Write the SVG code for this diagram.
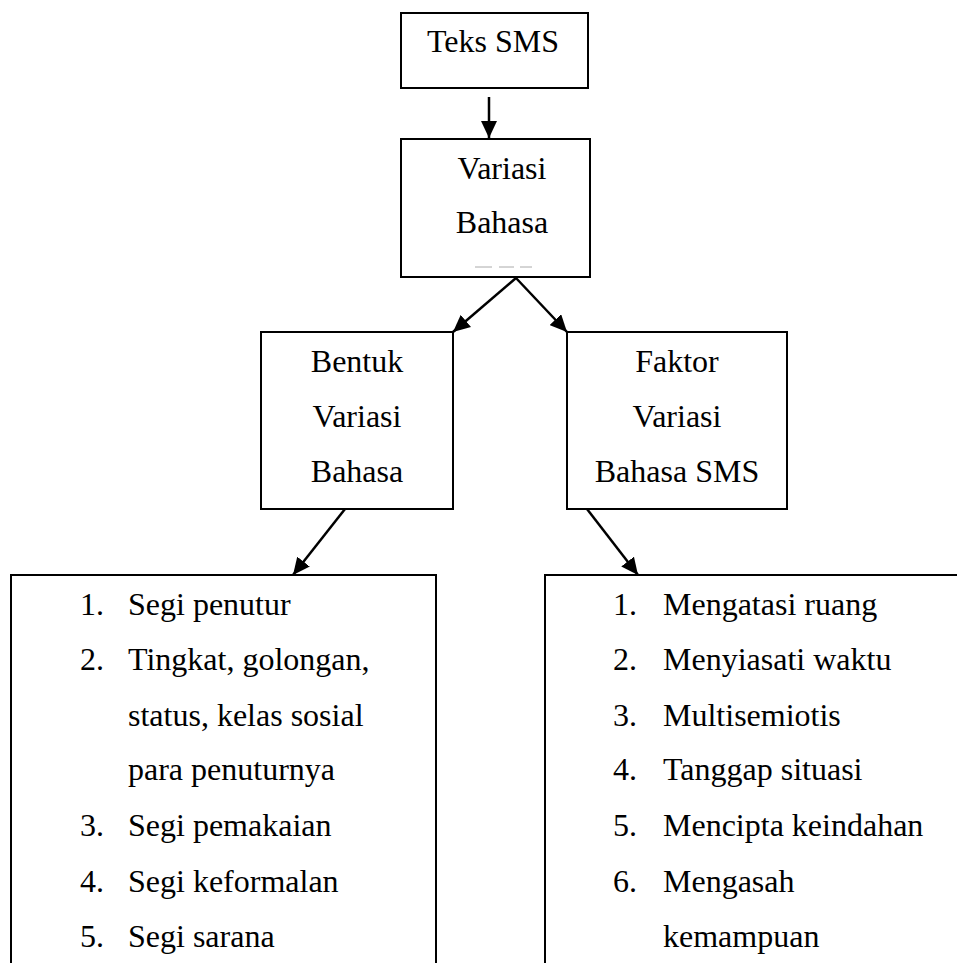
<svg xmlns="http://www.w3.org/2000/svg" width="957" height="963" viewBox="0 0 957 963">
<style>
.box{fill:#fff;stroke:#000;stroke-width:2}
.t{font-family:"Liberation Serif","Times New Roman",serif;font-size:32px;fill:#000}
.c{text-anchor:middle}
.conn{stroke:#000;stroke-width:2.5;fill:none}
</style>
<defs>
<marker id="ah" viewBox="0 0 17 16" refX="17" refY="8" markerWidth="17" markerHeight="16" markerUnits="userSpaceOnUse" orient="auto">
<path d="M0,0 L17,8 L0,16 z" fill="#000"/>
</marker>
</defs>
<rect width="957" height="963" fill="#fff"/>
<g id="teks-sms">
<rect class="box" x="401" y="13" width="187" height="75"/>
<text class="t c" x="493" y="52">Teks SMS</text>
</g>
<g id="variasi-bahasa">
<rect class="box" x="401" y="139" width="189" height="138"/>
<text class="t c" x="502" y="179">Variasi</text>
<text class="t c" x="502" y="233">Bahasa</text>
<g stroke="#aaa" stroke-width="1">
<line x1="475" y1="267" x2="492" y2="267"/>
<line x1="499" y1="267" x2="514" y2="267"/>
<line x1="520" y1="267" x2="532" y2="267"/>
</g>
</g>
<g id="bentuk">
<rect class="box" x="261" y="332" width="192" height="177"/>
<text class="t c" x="357" y="372">Bentuk</text>
<text class="t c" x="357" y="427">Variasi</text>
<text class="t c" x="357" y="482">Bahasa</text>
</g>
<g id="faktor">
<rect class="box" x="567" y="332" width="220" height="177"/>
<text class="t c" x="677" y="372">Faktor</text>
<text class="t c" x="677" y="427">Variasi</text>
<text class="t c" x="677" y="482">Bahasa SMS</text>
</g>
<g id="bentuk-list">
<rect class="box" x="11" y="575" width="425" height="400"/>
<text class="t" x="80" y="615">1.</text><text class="t" x="128" y="615">Segi penutur</text>
<text class="t" x="80" y="670">2.</text><text class="t" x="128" y="670">Tingkat, golongan,</text>
<text class="t" x="128" y="726">status, kelas sosial</text>
<text class="t" x="128" y="780">para penuturnya</text>
<text class="t" x="80" y="836">3.</text><text class="t" x="128" y="836">Segi pemakaian</text>
<text class="t" x="80" y="892">4.</text><text class="t" x="128" y="892">Segi keformalan</text>
<text class="t" x="80" y="947">5.</text><text class="t" x="128" y="947">Segi sarana</text>
</g>
<g id="faktor-list">
<rect class="box" x="545" y="575" width="430" height="400"/>
<text class="t" x="613" y="615">1.</text><text class="t" x="663" y="615">Mengatasi ruang</text>
<text class="t" x="613" y="670">2.</text><text class="t" x="663" y="670">Menyiasati waktu</text>
<text class="t" x="613" y="726">3.</text><text class="t" x="663" y="726">Multisemiotis</text>
<text class="t" x="613" y="780">4.</text><text class="t" x="663" y="780">Tanggap situasi</text>
<text class="t" x="613" y="836">5.</text><text class="t" x="663" y="836">Mencipta keindahan</text>
<text class="t" x="613" y="892">6.</text><text class="t" x="663" y="892">Mengasah</text>
<text class="t" x="663" y="947">kemampuan</text>
</g>
<g id="connectors">
<line class="conn" x1="489" y1="97" x2="489" y2="138" marker-end="url(#ah)"/>
<line class="conn" x1="516" y1="278" x2="453" y2="332" marker-end="url(#ah)"/>
<line class="conn" x1="516" y1="278" x2="567" y2="332" marker-end="url(#ah)"/>
<line class="conn" x1="345" y1="509" x2="293" y2="575" marker-end="url(#ah)"/>
<line class="conn" x1="587" y1="509" x2="638" y2="575" marker-end="url(#ah)"/>
</g>
</svg>
